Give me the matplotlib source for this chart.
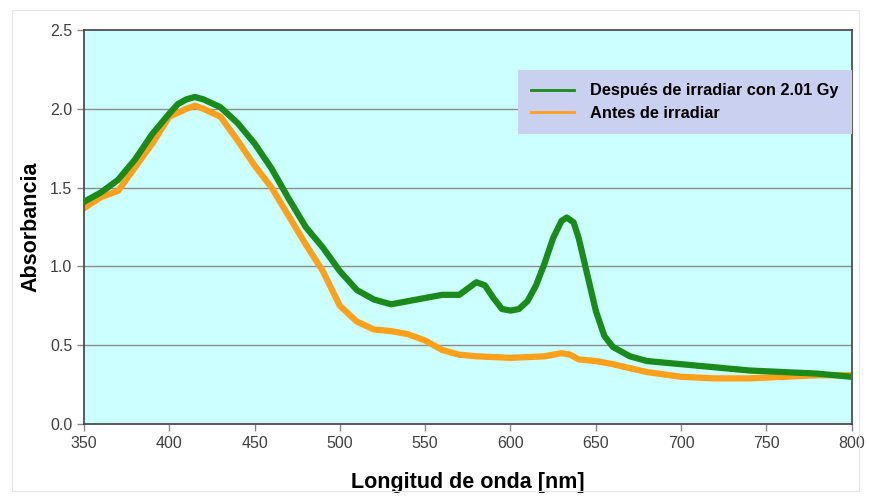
import matplotlib.pyplot as plt
from matplotlib.patches import Rectangle

plt.rcParams['font.family'] = ['Liberation Sans', 'DejaVu Sans']

# Espectros de absorbancia
wl_after = [350, 360, 370, 380, 390, 400, 405, 410, 415, 420, 430, 440, 450, 460, 470,
            480, 490, 500, 510, 520, 530, 540, 550, 560, 570, 575, 580, 585, 590, 595,
            600, 605, 610, 615, 620, 625, 630, 633, 637, 640, 645, 650, 655, 660, 670,
            680, 700, 720, 740, 760, 780, 800]
abs_after = [1.41, 1.47, 1.55, 1.68, 1.84, 1.97, 2.03, 2.06, 2.075, 2.06, 2.01, 1.91, 1.78,
             1.62, 1.43, 1.25, 1.12, 0.97, 0.85, 0.79, 0.76, 0.78, 0.80, 0.82, 0.82, 0.86,
             0.90, 0.88, 0.80, 0.73, 0.72, 0.73, 0.78, 0.88, 1.02, 1.18, 1.29, 1.31, 1.28,
             1.18, 0.95, 0.72, 0.56, 0.49, 0.43, 0.40, 0.38, 0.36, 0.34, 0.33, 0.32, 0.30]

wl_before = [350, 360, 365, 370, 380, 390, 400, 410, 415, 420, 430, 440, 450, 460, 470,
             480, 490, 500, 510, 520, 530, 540, 550, 560, 570, 580, 600, 620, 630, 635,
             640, 650, 660, 680, 700, 720, 740, 760, 780, 800]
abs_before = [1.37, 1.44, 1.46, 1.48, 1.63, 1.78, 1.95, 2.00, 2.02, 2.00, 1.95, 1.80, 1.64,
              1.50, 1.32, 1.14, 0.97, 0.75, 0.65, 0.60, 0.59, 0.57, 0.53, 0.47, 0.44, 0.43,
              0.42, 0.43, 0.45, 0.44, 0.41, 0.40, 0.38, 0.33, 0.30, 0.29, 0.29, 0.30, 0.31,
              0.31]

labels = ['Después de irradiar con 2.01 Gy', 'Antes de irradiar']
xticks = [350, 400, 450, 500, 550, 600, 650, 700, 750, 800]
yticks = [0.0, 0.5, 1.0, 1.5, 2.0, 2.5]

fig = plt.figure(figsize=(8.69, 4.96), dpi=100)
ax = fig.add_axes([0.0967, 0.145, 0.8833, 0.7945])
ax.set_facecolor('#ccffff')

fig.patches.append(Rectangle((0.014, 0.01), 0.975, 0.97, transform=fig.transFigure,
                             fill=False, edgecolor='#e6e6e6', linewidth=0.8))

for y in yticks[1:-1]:
    ax.axhline(y, color='#8c8c8c', linewidth=1.0, zorder=1)

ax.plot(wl_after, abs_after, color='#1a8a1a', linewidth=4.5, zorder=3,
        solid_joinstyle='round', label=labels[0])
ax.plot(wl_before, abs_before, color='#ffa01a', linewidth=4.5, zorder=2,
        solid_joinstyle='round', label=labels[1])

ax.set_xlim(350, 800)
ax.set_ylim(0, 2.5)
ax.set_xticks(xticks)
ax.set_yticks(yticks)
ax.set_yticklabels([f'{v:.1f}' for v in yticks])
ax.tick_params(direction='out', length=5, color='#888888', labelsize=11.5,
               labelcolor='#404040', width=1)
for s in ax.spines.values():
    s.set_color('#404040')
    s.set_linewidth(1.2)

ax.set_xlabel('Longitud de onda [nm]', fontsize=15.5, fontweight='bold', labelpad=15)
ax.set_ylabel('Absorbancia', fontsize=15.5, fontweight='bold', labelpad=6)

leg = ax.legend(loc='upper right', bbox_to_anchor=(1.0, 0.898), borderaxespad=0,
                frameon=True, fancybox=False, borderpad=0.8, labelspacing=0.45,
                handlelength=2.6, handletextpad=1.0,
                prop={'weight': 'bold', 'size': 11.8})
leg.get_frame().set_facecolor('#c9d0f0')
leg.get_frame().set_edgecolor('none')
leg.get_frame().set_alpha(1)
for h in leg.get_lines():
    h.set_linewidth(2)

plt.savefig('out.png', dpi=100)
